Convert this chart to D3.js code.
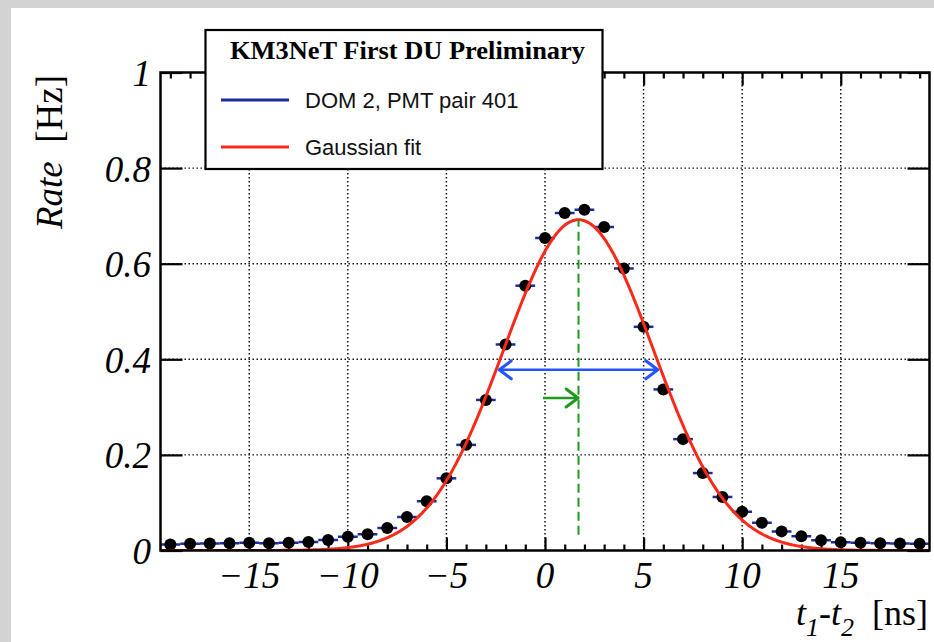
<!DOCTYPE html>
<html>
<head>
<meta charset="utf-8">
<script src="https://cdn.jsdelivr.net/npm/d3@7"></script>
<style>
  html, body { margin: 0; padding: 0; background: #ffffff; }
  svg { display: block; }
</style>
</head>
<body>
<svg id="chart" width="934" height="642"></svg>
<script>
// ---------------- data ----------------
const binCenters = [-19,-18,-17,-16,-15,-14,-13,-12,-11,-10,-9,-8,-7,-6,-5,-4,-3,-2,-1,0,
                    1,2,3,4,5,6,7,8,9,10,11,12,13,14,15,16,17,18,19];
const rates = [0.0125,0.014,0.0145,0.015,0.016,0.015,0.016,0.018,0.022,0.029,
               0.034,0.047,0.070,0.103,0.151,0.221,0.315,0.431,0.554,0.654,
               0.706,0.713,0.677,0.590,0.468,0.337,0.233,0.162,0.112,0.081,
               0.058,0.040,0.030,0.0215,0.017,0.016,0.015,0.0146,0.014];
const binHalfWidth = 0.5;

const xMajorTicks = [-15,-10,-5,0,5,10,15];
const xTickLabels = ["\u221215","\u221210","\u22125","0","5","10","15"];
const xMinorTicks = [-19,-18,-17,-16,-14,-13,-12,-11,-9,-8,-7,-6,-4,-3,-2,-1,1,2,3,4,6,7,8,9,11,12,13,14,16,17,18,19];
const yTicks = [0,0.2,0.4,0.6,0.8,1];
const yTickLabels = ["0","0.2","0.4","0.6","0.8","1"];
const yGrid = [0.2,0.4,0.6,0.8];

// Gaussian fit parameters
const fitAmp = 0.692, fitMean = 1.7, fitSigma = 3.8;

// annotations (data coordinates)
const fwhmArrowX = [-2.32, 5.72], fwhmArrowY = 0.378;
const meanArrowX = [-0.1, 1.68], meanArrowY = 0.319;
const meanLineY = [0.033, 0.692];

const legendTitle = "KM3NeT First DU Preliminary";
const legendEntries = ["DOM 2, PMT pair 401", "Gaussian fit"];

// ---------------- drawing ----------------
const svg = d3.select("#chart");
const W = 934, H = 642;
const pLeft = 160.5, pRight = 929.5, pTop = 72.5, pBottom = 550.5;

const x = d3.scaleLinear().domain([-19.5, 19.5]).range([pLeft, pRight]);
const y = d3.scaleLinear().domain([0, 1]).range([pBottom, pTop]);

// background: grey border at top/left
svg.append("rect").attr("x",0).attr("y",0).attr("width",W).attr("height",H).attr("fill","#d3d3d3");
svg.append("rect").attr("x",11).attr("y",8).attr("width",W-11).attr("height",H-8).attr("fill","#ffffff");

svg.append("defs").append("clipPath").attr("id","plotclip")
  .append("rect").attr("x",pLeft).attr("y",pTop).attr("width",pRight-pLeft).attr("height",pBottom-pTop);

// grid
const grid = svg.append("g").attr("stroke","#000").attr("stroke-width",1.4).attr("stroke-dasharray","1.4,2.6");
grid.selectAll("line.v").data(xMajorTicks).join("line").attr("class","v")
  .attr("x1",d=>x(d)).attr("x2",d=>x(d)).attr("y1",y(0)).attr("y2",y(1));
grid.selectAll("line.h").data(yGrid).join("line").attr("class","h")
  .attr("x1",pLeft).attr("x2",pRight).attr("y1",d=>y(d)).attr("y2",d=>y(d));

// axes ticks via d3 axes
const tickStyle = g => { g.select(".domain").remove(); g.selectAll("line").attr("stroke","#000").attr("stroke-width",2.2); g.selectAll("text").remove(); };
svg.append("g").attr("transform",`translate(0,${pBottom})`)
  .call(d3.axisBottom(x).tickValues(xMajorTicks).tickSize(-13)).call(tickStyle);
svg.append("g").attr("transform",`translate(0,${pBottom})`)
  .call(d3.axisBottom(x).tickValues(xMinorTicks).tickSize(-6)).call(tickStyle);
svg.append("g").attr("transform",`translate(0,${pTop})`)
  .call(d3.axisTop(x).tickValues(xMajorTicks).tickSize(-13)).call(tickStyle);
svg.append("g").attr("transform",`translate(0,${pTop})`)
  .call(d3.axisTop(x).tickValues(xMinorTicks).tickSize(-6)).call(tickStyle);
svg.append("g").attr("transform",`translate(${pLeft},0)`)
  .call(d3.axisLeft(y).tickValues(yTicks).tickSize(-22)).call(tickStyle);
svg.append("g").attr("transform",`translate(${pRight},0)`)
  .call(d3.axisRight(y).tickValues(yTicks).tickSize(-22)).call(tickStyle);

// tick labels
const labelFont = "'Liberation Serif','Times New Roman',serif";
svg.append("g").selectAll("text").data(xMajorTicks).join("text")
  .attr("x",d=>x(d)).attr("y",588).attr("text-anchor","middle")
  .attr("font-family",labelFont).attr("font-style","italic").attr("font-size",37).attr("fill","#000")
  .text((d,i)=>xTickLabels[i]);
svg.append("g").selectAll("text").data(yTicks).join("text")
  .attr("x",151).attr("y",d=>y(d)+13.5).attr("text-anchor","end")
  .attr("font-family",labelFont).attr("font-style","italic").attr("font-size",37).attr("fill","#000")
  .text((d,i)=>yTickLabels[i]);

// axis titles
const yt = svg.append("text").attr("transform","translate(62,75) rotate(-90)")
  .attr("text-anchor","end").attr("font-family",labelFont).attr("font-size",37).attr("fill","#000");
yt.append("tspan").attr("font-style","italic").text("Rate");
yt.append("tspan").text("\u00a0\u00a0[Hz]");

const xt = svg.append("text").attr("x",928).attr("y",625).attr("text-anchor","end")
  .attr("font-family",labelFont).attr("font-size",36).attr("fill","#000");
xt.append("tspan").attr("font-style","italic").text("t");
xt.append("tspan").attr("font-style","italic").attr("font-size",26).attr("dy",11).text("1");
xt.append("tspan").attr("dy",-11).text("-");
xt.append("tspan").attr("font-style","italic").text("t");
xt.append("tspan").attr("font-style","italic").attr("font-size",26).attr("dy",11).text("2");
xt.append("tspan").attr("dy",-11).text("\u00a0\u00a0[ns]");

// plot contents
const plot = svg.append("g").attr("clip-path","url(#plotclip)");
const pts = binCenters.map((c,i)=>({c, v: rates[i]}));

// error bars (bin widths)
plot.append("g").selectAll("line").data(pts).join("line")
  .attr("x1",d=>x(d.c-binHalfWidth)).attr("x2",d=>x(d.c+binHalfWidth))
  .attr("y1",d=>y(d.v)).attr("y2",d=>y(d.v))
  .attr("stroke","#1c2c9c").attr("stroke-width",2.5);

// markers
plot.append("g").selectAll("circle").data(pts).join("circle")
  .attr("cx",d=>x(d.c)).attr("cy",d=>y(d.v)).attr("r",6).attr("fill","#000");

// fit curve
const fitX = d3.range(-19.5, 19.51, 0.05);
const gauss = t => fitAmp*Math.exp(-((t-fitMean)**2)/(2*fitSigma*fitSigma));
plot.append("path").datum(fitX)
  .attr("d", d3.line().x(d=>x(d)).y(d=>y(gauss(d))))
  .attr("fill","none").attr("stroke","#fa2a1a").attr("stroke-width",3);

// mean dashed line
svg.append("line").attr("x1",x(fitMean)).attr("x2",x(fitMean))
  .attr("y1",y(meanLineY[0])).attr("y2",y(meanLineY[1]))
  .attr("stroke","#1e9a1e").attr("stroke-width",2).attr("stroke-dasharray","9,5");

// arrows
function chevron(g, xTip, yTip, dir, color){
  g.append("path")
    .attr("d", `M${xTip-dir*12},${yTip-9} L${xTip},${yTip} L${xTip-dir*12},${yTip+9}`)
    .attr("fill","none").attr("stroke",color).attr("stroke-width",3).attr("stroke-linecap","round").attr("stroke-linejoin","round");
}
const ar = svg.append("g");
ar.append("line").attr("x1",x(fwhmArrowX[0])).attr("x2",x(fwhmArrowX[1]))
  .attr("y1",y(fwhmArrowY)).attr("y2",y(fwhmArrowY)).attr("stroke","#2255ff").attr("stroke-width",2.5);
chevron(ar, x(fwhmArrowX[0]), y(fwhmArrowY), -1, "#2255ff");
chevron(ar, x(fwhmArrowX[1]), y(fwhmArrowY), 1, "#2255ff");
ar.append("line").attr("x1",x(meanArrowX[0])).attr("x2",x(meanArrowX[1]))
  .attr("y1",y(meanArrowY)).attr("y2",y(meanArrowY)).attr("stroke","#1e9a1e").attr("stroke-width",2.5);
chevron(ar, x(meanArrowX[1]), y(meanArrowY), 1, "#1e9a1e");

// frame
svg.append("rect").attr("x",pLeft).attr("y",pTop).attr("width",pRight-pLeft).attr("height",pBottom-pTop)
  .attr("fill","none").attr("stroke","#000").attr("stroke-width",2.5);

// legend
const lg = svg.append("g");
lg.append("rect").attr("x",205.5).attr("y",30).attr("width",397).attr("height",139)
  .attr("fill","#fff").attr("stroke","#000").attr("stroke-width",2.2);
lg.append("text").attr("x",230).attr("y",59)
  .attr("font-family",labelFont).attr("font-weight","bold").attr("font-size",26)
  .attr("textLength",355).attr("lengthAdjust","spacingAndGlyphs").attr("fill","#000")
  .text(legendTitle);
const legColors = ["#1c2c9c","#fa2a1a"];
const legY = [100, 147];
legendEntries.forEach((t,i)=>{
  lg.append("line").attr("x1",221).attr("x2",289).attr("y1",legY[i]).attr("y2",legY[i])
    .attr("stroke",legColors[i]).attr("stroke-width",3);
  lg.append("text").attr("x",305).attr("y",legY[i]+8)
    .attr("font-family","'Liberation Sans',Arial,sans-serif").attr("font-size",22).attr("fill","#111")
    .text(t);
});
</script>
</body>
</html>
